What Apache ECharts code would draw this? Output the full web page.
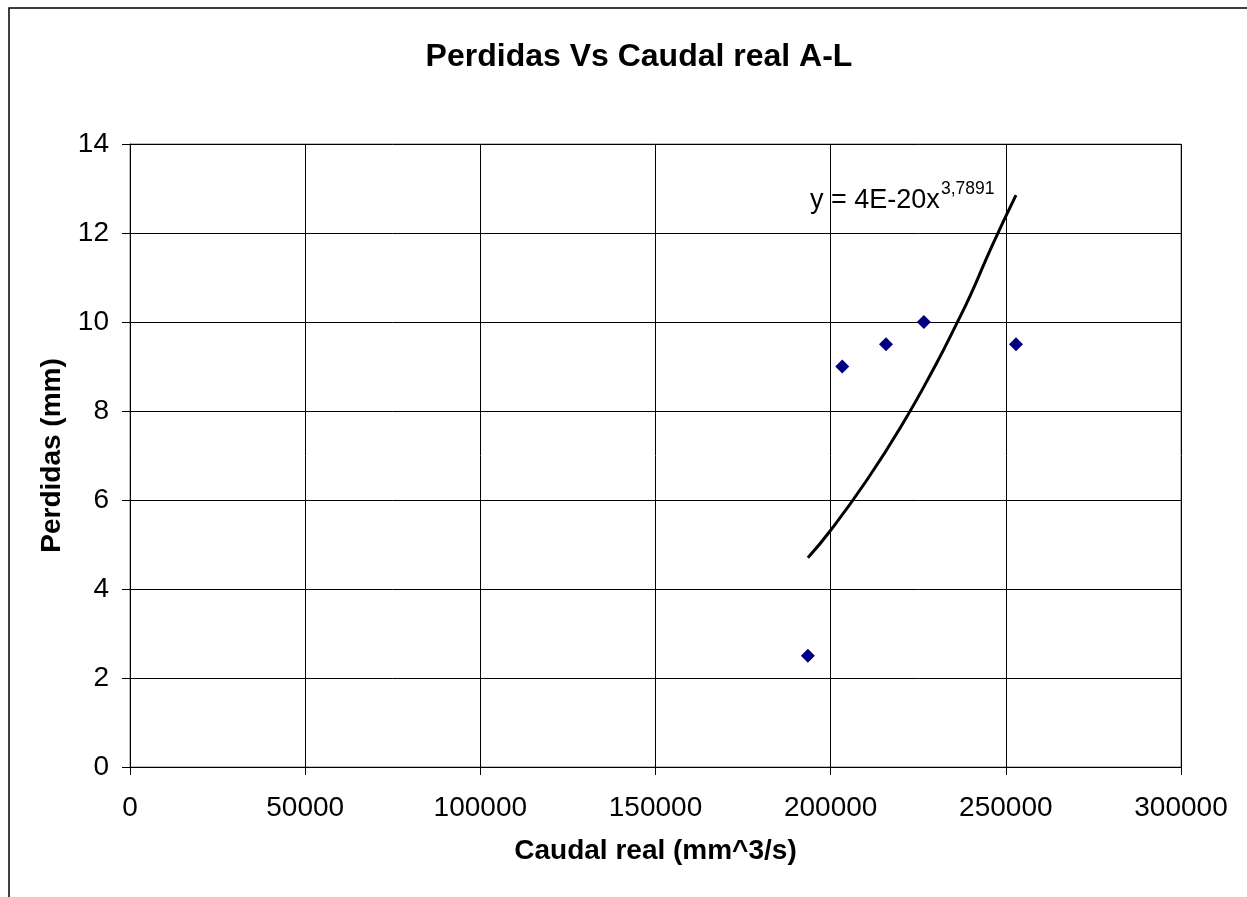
<!DOCTYPE html>
<html lang="es">
<head>
    <meta charset="UTF-8">
    <title>Perdidas Vs Caudal real A-L</title>
    <script src="https://cdn.jsdelivr.net/npm/echarts@6/dist/echarts.min.js"></script>
    <style>
        html, body { margin: 0; padding: 0; background: #fff; }
        #chart { width: 1247px; height: 897px; }
    </style>
</head>
<body>
<div id="chart"></div>
<script type="text/javascript">
    // datos medidos (caudal mm^3/s, perdidas mm)
    var caudal = [193500, 203300, 215800, 226600, 252900];
    var perdidas = [2.5, 9, 9.5, 10, 9.5];

    // linea de tendencia potencial
    var tendX = [193500, 200000, 210000, 220000, 230000, 236000, 240000, 246000, 252900];
    var tendY = [4.7, 5.32, 6.41, 7.64, 9.04, 9.97, 10.62, 11.7, 12.85];

    var xTicks = [0, 50000, 100000, 150000, 200000, 250000, 300000];
    var yTicks = [0, 2, 4, 6, 8, 10, 12, 14];

    var font = '"Liberation Sans", Arial, sans-serif';
    var chart = echarts.init(document.getElementById('chart'));

    var puntos = caudal.map(function (c, i) { return [c, perdidas[i]]; });
    var tend = tendX.map(function (c, i) { return [c, tendY[i]]; });

    chart.setOption({
        animation: false,
        backgroundColor: '#fff',
        title: {
            text: 'Perdidas Vs Caudal real A-L',
            left: 634,
            top: 36,
            textAlign: 'center',
            textStyle: { fontFamily: font, fontSize: 32, fontWeight: 'bold', color: '#000' }
        },
        grid: { left: 130, top: 144, width: 1051, height: 623, show: true, borderColor: '#808080', borderWidth: 1 },
        xAxis: {
            type: 'value',
            min: xTicks[0],
            max: xTicks[xTicks.length - 1],
            interval: 50000,
            name: 'Caudal real (mm^3/s)',
            nameLocation: 'middle',
            nameGap: 70,
            nameTextStyle: { fontFamily: font, fontSize: 28, fontWeight: 'bold', color: '#000' },
            axisLine: { lineStyle: { color: '#000', width: 1 } },
            axisTick: { show: true, inside: false, length: 8, lineStyle: { color: '#000' } },
            axisLabel: {
                fontFamily: font, fontSize: 28, color: '#000', margin: 27,
                formatter: function (v) { return String(v); }
            },
            splitLine: { show: true, lineStyle: { color: '#000', width: 1 } }
        },
        yAxis: {
            type: 'value',
            min: yTicks[0],
            max: yTicks[yTicks.length - 1],
            interval: 2,
            name: 'Perdidas (mm)',
            nameLocation: 'middle',
            nameGap: 64,
            nameRotate: 90,
            nameTextStyle: { fontFamily: font, fontSize: 28, fontWeight: 'bold', color: '#000' },
            axisLine: { show: true, lineStyle: { color: '#000', width: 1 } },
            axisTick: { show: true, inside: false, length: 8, lineStyle: { color: '#000' } },
            axisLabel: { fontFamily: font, fontSize: 28, color: '#000', margin: 21 },
            splitLine: { show: true, lineStyle: { color: '#000', width: 1 } }
        },
        series: [{
            name: 'Tendencia',
            type: 'line',
            data: tend,
            smooth: true,
            showSymbol: false,
            symbol: 'none',
            lineStyle: { color: '#000', width: 3 },
            z: 2
        }, {
            name: 'Perdidas',
            type: 'scatter',
            data: puntos,
            symbol: 'diamond',
            symbolSize: 14,
            itemStyle: { color: '#000080', opacity: 1 },
            z: 3
        }],
        graphic: [{
            type: 'rect',
            shape: { x: 9, y: 8, width: 1400, height: 1000 },
            style: { fill: 'none', stroke: '#000', lineWidth: 1.5 },
            silent: true
        }, {
            type: 'text',
            x: 810,
            y: 201,
            style: {
                text: 'y = 4E-20x',
                fontFamily: font, fontSize: 27, fill: '#000',
                verticalAlign: 'middle', align: 'left'
            }
        }, {
            type: 'text',
            x: 941,
            y: 189,
            style: {
                text: '3,7891',
                fontFamily: font, fontSize: 17.5, fill: '#000',
                verticalAlign: 'middle', align: 'left'
            }
        }]
    });
</script>
</body>
</html>
